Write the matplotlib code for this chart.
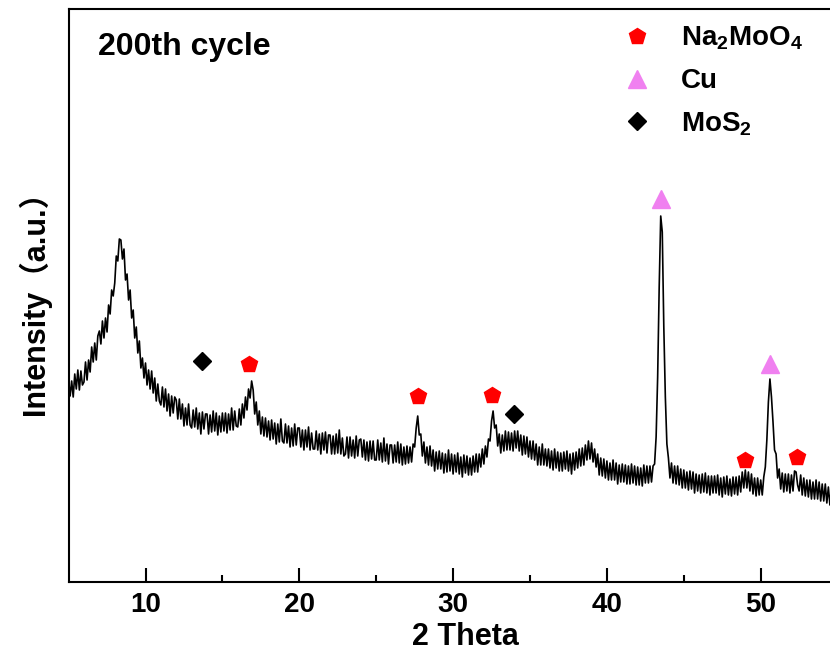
import numpy as np
import matplotlib
matplotlib.use("Agg")
import matplotlib.pyplot as plt
from matplotlib.lines import Line2D

plt.rcParams['font.family'] = ['Liberation Sans', 'Noto Sans CJK SC', 'DejaVu Sans']
plt.rcParams['font.weight'] = 'bold'
plt.rcParams['mathtext.fontset'] = 'custom'
plt.rcParams['mathtext.rm'] = 'Liberation Sans:bold'
plt.rcParams['mathtext.it'] = 'Liberation Sans:bold'
plt.rcParams['mathtext.bf'] = 'Liberation Sans:bold'

# 2 theta from 5.0 in steps of 0.1 degree, intensity in arbitrary units
two_theta_start = 5.0
two_theta_step = 0.1
intensity = [
    202, 186, 201, 185, 208, 193, 212, 192, 211, 197,   # 5
    200, 220, 202, 222, 210, 235, 220, 239, 222, 246,   # 6
    251, 238, 261, 244, 264, 250, 277, 268, 292, 286,   # 7
    299, 326, 321, 343, 342, 323, 333, 302, 308, 282,   # 8
    292, 264, 272, 244, 255, 229, 241, 214, 224, 204,   # 9
    219, 197, 212, 193, 211, 189, 204, 181, 198, 181,   # 10
    177, 195, 175, 193, 171, 188, 166, 186, 169, 185,   # 11
    182, 163, 183, 163, 178, 156, 174, 157, 178, 157,   # 12
    154, 172, 155, 174, 153, 169, 148, 170, 153, 168,   # 13
    168, 148, 167, 150, 171, 151, 169, 147, 166, 150,   # 14
    169, 151, 169, 149, 168, 152, 174, 152, 171, 156,   # 15
    155, 173, 157, 178, 164, 185, 172, 193, 184, 201,   # 16
    192, 168, 180, 157, 171, 148, 165, 146, 164, 145,   # 17
    161, 142, 162, 143, 159, 138, 158, 140, 163, 141,   # 18
    139, 158, 139, 156, 135, 154, 136, 158, 137, 154,   # 19
    154, 135, 152, 132, 152, 135, 155, 132, 149, 133,   # 20
    133, 151, 132, 148, 128, 149, 132, 150, 129, 147,   # 21
    147, 128, 146, 128, 148, 129, 152, 128, 144, 126,   # 22
    128, 145, 124, 145, 126, 142, 124, 146, 126, 142,   # 23
    143, 125, 142, 122, 140, 121, 141, 123, 141, 122,   # 24
    122, 142, 122, 139, 120, 144, 121, 138, 118, 137,   # 25
    137, 119, 137, 120, 140, 119, 138, 117, 135, 118,   # 26
    136, 119, 135, 120, 138, 135, 154, 166, 147, 148,   # 27
    126, 140, 119, 135, 117, 136, 116, 132, 111, 130,   # 28
    113, 131, 113, 129, 109, 128, 110, 132, 111, 128,   # 29
    108, 127, 110, 129, 108, 125, 105, 127, 109, 126,   # 30
    107, 124, 107, 126, 110, 128, 110, 128, 115, 133,   # 31
    118, 136, 125, 143, 141, 161, 171, 154, 157, 136,   # 32
    148, 129, 147, 131, 151, 132, 150, 132, 149, 131,   # 33
    151, 134, 151, 131, 147, 127, 146, 128, 145, 125,   # 34
    141, 123, 141, 122, 138, 117, 135, 117, 138, 117,   # 35
    133, 116, 133, 114, 131, 112, 133, 114, 130, 111,   # 36
    129, 111, 130, 113, 131, 111, 128, 108, 129, 112,   # 37
    130, 114, 133, 116, 134, 117, 137, 122, 141, 123,   # 38
    139, 120, 133, 115, 128, 107, 124, 106, 123, 104,   # 39
    121, 102, 119, 102, 122, 102, 119, 98, 117, 100,    # 40
    118, 100, 117, 98, 116, 98, 118, 99, 116, 97,       # 41
    115, 97, 114, 96, 117, 99, 116, 99, 116, 100,       # 42
    116, 118, 145, 205, 295, 366, 350, 255, 185, 138,   # 43
    124, 104, 119, 99, 116, 98, 116, 97, 113, 94,       # 44
    112, 94, 110, 92, 111, 93, 110, 89, 108, 91,        # 45
    107, 89, 108, 90, 109, 89, 106, 87, 106, 89,        # 46
    106, 89, 107, 87, 104, 85, 105, 88, 106, 87,        # 47
    103, 86, 105, 88, 105, 87, 106, 90, 110, 94,        # 48
    112, 94, 110, 91, 108, 88, 104, 86, 104, 87,        # 49
    102, 87, 105, 115, 142, 180, 203, 185, 160, 132,    # 50
    128, 104, 113, 93, 109, 90, 108, 91, 108, 89,       # 51
    107, 91, 111, 110, 97, 91, 107, 87, 104, 86,        # 52
    102, 85, 102, 83, 100, 83, 102, 83, 100, 81,        # 53
    98, 81, 98, 79, 95, 77, 95, 78, 94, 77,             # 54
]
two_theta = two_theta_start + two_theta_step * np.arange(len(intensity))

# phase markers: (2 theta, intensity)
na2moo4_x = [16.75, 27.7, 32.5, 48.98, 52.35]
na2moo4_y = [218, 186, 187, 122, 125]
cu_x = [43.5, 50.6]
cu_y = [383, 218]
mos2_x = [13.7, 33.95]
mos2_y = [221, 168]

xticks_major = [10, 20, 30, 40, 50]
xticks_minor = [15, 25, 35, 45]

fig = plt.figure(figsize=(8.3, 6.65), dpi=100)
ax = fig.add_axes([68.6 / 830, 1 - 582 / 665, (863 - 68.6) / 830, (582 - 9) / 665])

ax.plot(two_theta, intensity, color='black', lw=1.2)
ax.plot(na2moo4_x, na2moo4_y, 'p', color='#ff0000', ms=12, ls='none')
ax.plot(cu_x, cu_y, '^', color='#f080f0', ms=13, ls='none')
ax.plot(mos2_x, mos2_y, 'D', color='black', ms=9, ls='none')

ax.set_xlim(5, 5 + (863 - 68.6) / 15.38)
ax.set_ylim(0, 573)
ax.set_yticks([])
ax.set_xticks(xticks_major)
ax.set_xticks(xticks_minor, minor=True)
ax.tick_params(axis='x', which='major', direction='in', length=10, width=1.5, labelsize=20, pad=7)
ax.tick_params(axis='x', which='minor', direction='in', length=5, width=1.5)
for s in ax.spines.values():
    s.set_linewidth(1.5)

ax.set_xlabel('2 Theta', fontsize=22, fontweight='bold', labelpad=3)
ax.set_ylabel('Intensity（a.u.）', fontsize=22, fontweight='bold', labelpad=13)

fig.text(98 / 830, 1 - 47 / 665, '200th cycle', fontsize=23, fontweight='bold', va='center', ha='left')

handles = [
    Line2D([], [], marker='p', color='#ff0000', ms=12, ls='none'),
    Line2D([], [], marker='^', color='#f080f0', ms=13, ls='none'),
    Line2D([], [], marker='D', color='black', ms=9, ls='none'),
]
labels = [r'Na$_2$MoO$_4$', 'Cu', r'MoS$_2$']
ax.legend(handles, labels, loc='upper left', bbox_to_anchor=(609 / 830, 1 - 11 / 665),
          bbox_transform=fig.transFigure, frameon=False, fontsize=20, borderpad=0,
          handlelength=1.0, handletextpad=1.1, labelspacing=0.57)

fig.savefig('out.png', dpi=100)
